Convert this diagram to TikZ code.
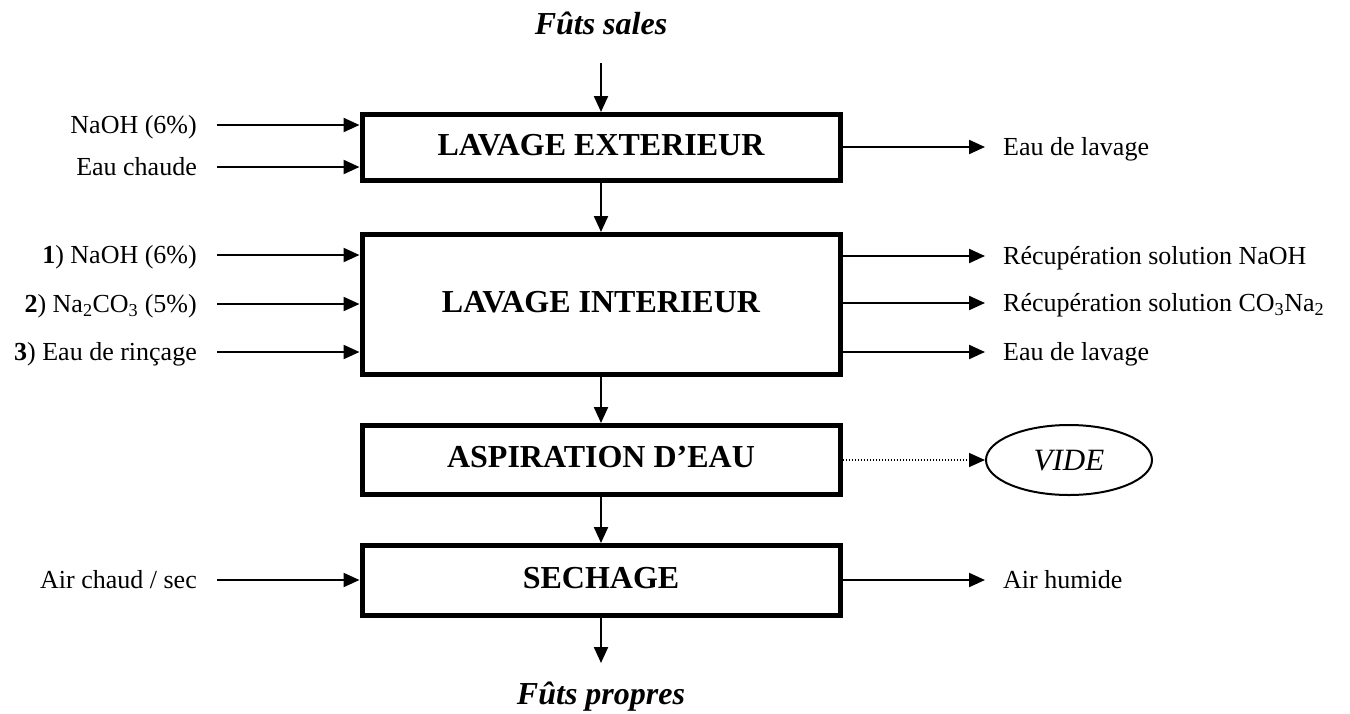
\documentclass[tikz,border=0pt]{standalone}
\usepackage{fontspec}
\setmainfont{Liberation Serif}
\usetikzlibrary{arrows.meta,shapes.geometric}

\begin{document}
\begin{tikzpicture}[x=1pt,y=-1pt,
  flow/.style={line width=2.2pt,-{Triangle[length=16pt,width=14pt]}},
  stage/.style={draw,line width=5pt,minimum width=478pt,inner sep=0pt,
    font=\fontsize{32}{36}\selectfont\bfseries,text height=21pt,text depth=6pt},
  inlbl/.style={anchor=east,inner ysep=0pt,inner xsep=20pt,
    font=\fontsize{26}{30}\selectfont,text height=17pt,text depth=0pt},
  outlbl/.style={anchor=west,inner ysep=0pt,inner xsep=18pt,
    font=\fontsize{26}{30}\selectfont,text height=17pt,text depth=0pt},
  endlbl/.style={inner sep=0pt,font=\fontsize{32}{36}\selectfont\bfseries\itshape,
    text height=21pt,text depth=0pt},
  sink/.style={draw,ellipse,line width=2pt,minimum width=166pt,minimum height=70pt,
    inner sep=0pt,font=\fontsize{31}{36}\selectfont\itshape,text height=21pt,text depth=0pt},
]
\useasboundingbox (0,0) rectangle (1350,713);

% process stages
\node[stage,minimum height=66pt]  (ext) at (601,147.5) {LAVAGE EXTERIEUR};
\node[stage,minimum height=140pt] (int) at (601,304.5) {LAVAGE INTERIEUR};
\node[stage,minimum height=69pt]  (asp) at (601,460)   {ASPIRATION D’EAU};
\node[stage,minimum height=70pt]  (sec) at (601,580.5) {SECHAGE};

% product in / out
\node[endlbl] (src) at (601,24) {Fûts sales};
\coordinate (srcfoot) at (601,63);
\coordinate (sinkhead) at (601,663);
\node[endlbl] (dst) at (601,694) {Fûts propres};

\draw[flow] (srcfoot) -- (ext.north);
\draw[flow] (ext.south) -- (int.north);
\draw[flow] (int.south) -- (asp.north);
\draw[flow] (asp.south) -- (sec.north);
\draw[flow] (sec.south) -- (sinkhead);

% inputs
\node[inlbl] (in1) at (217,125) {NaOH (6\%)};
\node[inlbl] (in2) at (217,167) {Eau chaude};
\node[inlbl] (in3) at (217,255) {\textbf{1}) NaOH (6\%)};
\node[inlbl] (in4) at (217,304) {\textbf{2}) Na\textsubscript{2}CO\textsubscript{3} (5\%)};
\node[inlbl] (in5) at (217,352) {\textbf{3}) Eau de rinçage};
\node[inlbl] (in6) at (217,580) {Air chaud / sec};

\draw[flow] (in1.east) -- (in1.east -| ext.west);
\draw[flow] (in2.east) -- (in2.east -| ext.west);
\draw[flow] (in3.east) -- (in3.east -| int.west);
\draw[flow] (in4.east) -- (in4.east -| int.west);
\draw[flow] (in5.east) -- (in5.east -| int.west);
\draw[flow] (in6.east) -- (in6.east -| sec.west);

% outputs
\node[outlbl] (out1) at (985,147) {Eau de lavage};
\node[outlbl] (out2) at (985,256) {Récupération solution NaOH};
\node[outlbl] (out3) at (985,303) {Récupération solution CO\textsubscript{3}Na\textsubscript{2}};
\node[outlbl] (out4) at (985,352) {Eau de lavage};
\node[outlbl] (out5) at (985,580) {Air humide};

\draw[flow] (out1.west -| ext.east) -- (out1.west);
\draw[flow] (out2.west -| int.east) -- (out2.west);
\draw[flow] (out3.west -| int.east) -- (out3.west);
\draw[flow] (out4.west -| int.east) -- (out4.west);
\draw[flow] (out5.west -| sec.east) -- (out5.west);

% vacuum
\node[sink] (vide) at (1069,460) {VIDE};
\draw[flow,line width=1.5pt,dash pattern=on 1.5pt off 1.5pt] (asp.east) -- (vide.west);
\end{tikzpicture}
\end{document}
